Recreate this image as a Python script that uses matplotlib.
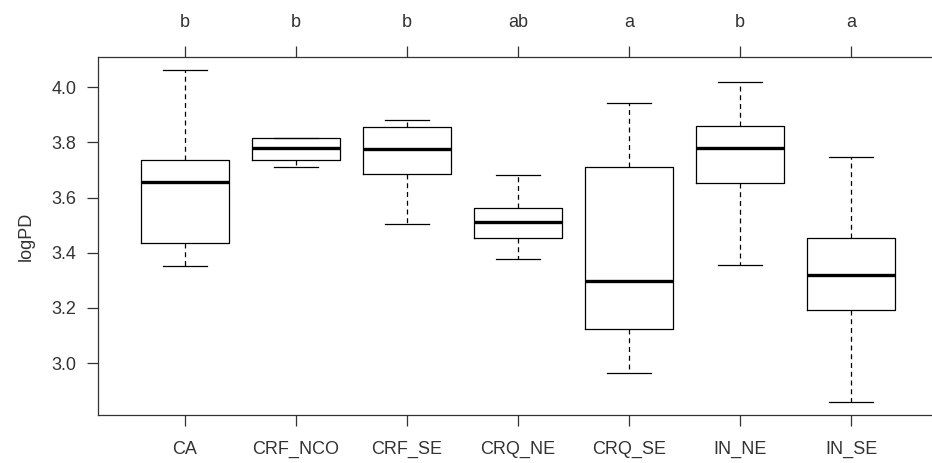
import matplotlib
matplotlib.use("Agg")
import matplotlib.pyplot as plt

groups = ["CA", "CRF_NCO", "CRF_SE", "CRQ_NE", "CRQ_SE", "IN_NE", "IN_SE"]
letters = ["b", "b", "b", "ab", "a", "b", "a"]

# five-number summaries
whislo = [3.352, 3.711, 3.505, 3.376, 2.966, 3.356, 2.861]
q1 = [3.436, 3.737, 3.686, 3.452, 3.124, 3.651, 3.191]
med = [3.655, 3.781, 3.774, 3.511, 3.297, 3.781, 3.318]
q3 = [3.737, 3.815, 3.854, 3.563, 3.710, 3.858, 3.452]
whishi = [4.061, 3.815, 3.882, 3.681, 3.943, 4.019, 3.748]

plt.rcParams["font.family"] = ["Liberation Sans", "DejaVu Sans"]
axcol = "#333333"
fs = 13

fig = plt.figure(figsize=(9.32, 4.63), dpi=100)
ax = fig.add_axes([0.1056, 0.104, 0.9004, 0.773])

stats = []
for i, g in enumerate(groups):
    stats.append({"label": g, "whislo": whislo[i], "q1": q1[i], "med": med[i],
                  "q3": q3[i], "whishi": whishi[i], "fliers": []})

ax.bxp(stats, positions=range(1, len(groups) + 1), widths=0.8, capwidths=0.4,
       showfliers=False,
       boxprops={"color": "black", "linewidth": 0.9},
       medianprops={"color": "black", "linewidth": 2.4, "solid_capstyle": "butt"},
       whiskerprops={"color": "black", "linewidth": 0.9, "linestyle": (0, (4, 3))},
       capprops={"color": "black", "linewidth": 0.9})

lo, hi = min(whislo), max(whishi)
pad = (hi - lo) * 0.04
ax.set_ylim(lo - pad, hi + pad)
ax.set_xlim(0.5 - 0.28, 7.5 + 0.28)

ax.set_yticks([3.0, 3.2, 3.4, 3.6, 3.8, 4.0])
ax.set_yticklabels(["3.0", "3.2", "3.4", "3.6", "3.8", "4.0"])
ax.set_ylabel("logPD", fontsize=fs, color=axcol, labelpad=12)

ax.set_xticks(range(1, len(groups) + 1))
ax.set_xticklabels(groups)
ax.tick_params(axis="both", direction="out", length=8, width=0.9, colors=axcol,
               labelsize=fs, pad=8)
ax.tick_params(axis="x", pad=11)

top = ax.secondary_xaxis("top")
top.set_xticks(range(1, len(groups) + 1))
top.set_xticklabels(letters)
top.tick_params(direction="out", length=8, width=0.9, colors=axcol,
                labelsize=fs, pad=11)
top.spines["top"].set_visible(False)

ax.spines["right"].set_visible(False)
for s in ax.spines.values():
    s.set_color(axcol)
    s.set_linewidth(0.9)

fig.savefig("out.png", dpi=100)
